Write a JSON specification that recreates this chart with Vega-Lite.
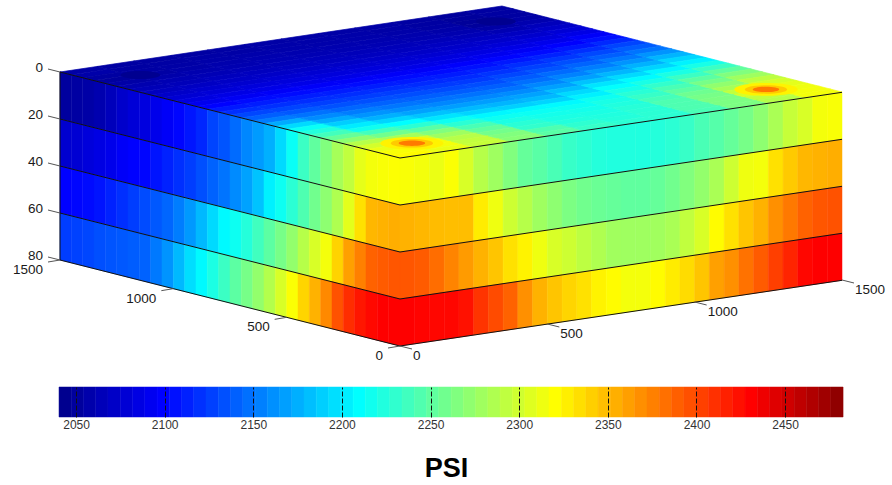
{"$schema":"https://vega.github.io/schema/vega-lite/v6.json","width":892,"height":485,"padding":0,"autosize":{"type":"fit","contains":"padding"},"background":"white","config":{"view":{"stroke":null}},"datasets":{"top":[
{"i":0,"j":0,"p":2052},{"i":0,"j":1,"p":2050},{"i":0,"j":2,"p":2050},{"i":0,"j":3,"p":2050},{"i":0,"j":4,"p":2051},{"i":0,"j":5,"p":2052},{"i":0,"j":6,"p":2052},{"i":0,"j":7,"p":2052},{"i":0,"j":8,"p":2052},{"i":0,"j":9,"p":2050},{"i":0,"j":10,"p":2047},{"i":0,"j":11,"p":2050},
{"i":1,"j":0,"p":2053},{"i":1,"j":1,"p":2050},{"i":1,"j":2,"p":2051},{"i":1,"j":3,"p":2052},{"i":1,"j":4,"p":2052},{"i":1,"j":5,"p":2053},{"i":1,"j":6,"p":2053},{"i":1,"j":7,"p":2053},{"i":1,"j":8,"p":2052},{"i":1,"j":9,"p":2050},{"i":1,"j":10,"p":2047},{"i":1,"j":11,"p":2050},
{"i":2,"j":0,"p":2050},{"i":2,"j":1,"p":2051},{"i":2,"j":2,"p":2052},{"i":2,"j":3,"p":2053},{"i":2,"j":4,"p":2054},{"i":2,"j":5,"p":2054},{"i":2,"j":6,"p":2054},{"i":2,"j":7,"p":2054},{"i":2,"j":8,"p":2053},{"i":2,"j":9,"p":2051},{"i":2,"j":10,"p":2046},{"i":2,"j":11,"p":2050},
{"i":3,"j":0,"p":2048},{"i":3,"j":1,"p":2051},{"i":3,"j":2,"p":2053},{"i":3,"j":3,"p":2055},{"i":3,"j":4,"p":2056},{"i":3,"j":5,"p":2056},{"i":3,"j":6,"p":2056},{"i":3,"j":7,"p":2056},{"i":3,"j":8,"p":2055},{"i":3,"j":9,"p":2053},{"i":3,"j":10,"p":2047},{"i":3,"j":11,"p":2052},
{"i":4,"j":0,"p":2052},{"i":4,"j":1,"p":2054},{"i":4,"j":2,"p":2056},{"i":4,"j":3,"p":2057},{"i":4,"j":4,"p":2058},{"i":4,"j":5,"p":2058},{"i":4,"j":6,"p":2058},{"i":4,"j":7,"p":2058},{"i":4,"j":8,"p":2057},{"i":4,"j":9,"p":2056},{"i":4,"j":10,"p":2052},{"i":4,"j":11,"p":2056},
{"i":5,"j":0,"p":2056},{"i":5,"j":1,"p":2058},{"i":5,"j":2,"p":2059},{"i":5,"j":3,"p":2060},{"i":5,"j":4,"p":2061},{"i":5,"j":5,"p":2061},{"i":5,"j":6,"p":2061},{"i":5,"j":7,"p":2061},{"i":5,"j":8,"p":2061},{"i":5,"j":9,"p":2060},{"i":5,"j":10,"p":2058},{"i":5,"j":11,"p":2062},
{"i":6,"j":0,"p":2060},{"i":6,"j":1,"p":2061},{"i":6,"j":2,"p":2063},{"i":6,"j":3,"p":2064},{"i":6,"j":4,"p":2064},{"i":6,"j":5,"p":2064},{"i":6,"j":6,"p":2064},{"i":6,"j":7,"p":2064},{"i":6,"j":8,"p":2065},{"i":6,"j":9,"p":2065},{"i":6,"j":10,"p":2065},{"i":6,"j":11,"p":2068},
{"i":7,"j":0,"p":2064},{"i":7,"j":1,"p":2066},{"i":7,"j":2,"p":2067},{"i":7,"j":3,"p":2068},{"i":7,"j":4,"p":2068},{"i":7,"j":5,"p":2068},{"i":7,"j":6,"p":2068},{"i":7,"j":7,"p":2068},{"i":7,"j":8,"p":2069},{"i":7,"j":9,"p":2070},{"i":7,"j":10,"p":2071},{"i":7,"j":11,"p":2075},
{"i":8,"j":0,"p":2069},{"i":8,"j":1,"p":2071},{"i":8,"j":2,"p":2072},{"i":8,"j":3,"p":2073},{"i":8,"j":4,"p":2073},{"i":8,"j":5,"p":2073},{"i":8,"j":6,"p":2073},{"i":8,"j":7,"p":2073},{"i":8,"j":8,"p":2074},{"i":8,"j":9,"p":2076},{"i":8,"j":10,"p":2078},{"i":8,"j":11,"p":2083},
{"i":9,"j":0,"p":2074},{"i":9,"j":1,"p":2076},{"i":9,"j":2,"p":2078},{"i":9,"j":3,"p":2078},{"i":9,"j":4,"p":2078},{"i":9,"j":5,"p":2078},{"i":9,"j":6,"p":2078},{"i":9,"j":7,"p":2079},{"i":9,"j":8,"p":2081},{"i":9,"j":9,"p":2083},{"i":9,"j":10,"p":2086},{"i":9,"j":11,"p":2092},
{"i":10,"j":0,"p":2080},{"i":10,"j":1,"p":2083},{"i":10,"j":2,"p":2084},{"i":10,"j":3,"p":2084},{"i":10,"j":4,"p":2084},{"i":10,"j":5,"p":2084},{"i":10,"j":6,"p":2084},{"i":10,"j":7,"p":2085},{"i":10,"j":8,"p":2088},{"i":10,"j":9,"p":2091},{"i":10,"j":10,"p":2095},{"i":10,"j":11,"p":2102},
{"i":11,"j":0,"p":2087},{"i":11,"j":1,"p":2090},{"i":11,"j":2,"p":2092},{"i":11,"j":3,"p":2092},{"i":11,"j":4,"p":2092},{"i":11,"j":5,"p":2092},{"i":11,"j":6,"p":2092},{"i":11,"j":7,"p":2094},{"i":11,"j":8,"p":2097},{"i":11,"j":9,"p":2100},{"i":11,"j":10,"p":2105},{"i":11,"j":11,"p":2113},
{"i":12,"j":0,"p":2096},{"i":12,"j":1,"p":2100},{"i":12,"j":2,"p":2100},{"i":12,"j":3,"p":2100},{"i":12,"j":4,"p":2100},{"i":12,"j":5,"p":2100},{"i":12,"j":6,"p":2100},{"i":12,"j":7,"p":2102},{"i":12,"j":8,"p":2106},{"i":12,"j":9,"p":2110},{"i":12,"j":10,"p":2116},{"i":12,"j":11,"p":2125},
{"i":13,"j":0,"p":2106},{"i":13,"j":1,"p":2108},{"i":13,"j":2,"p":2108},{"i":13,"j":3,"p":2108},{"i":13,"j":4,"p":2108},{"i":13,"j":5,"p":2107},{"i":13,"j":6,"p":2107},{"i":13,"j":7,"p":2110},{"i":13,"j":8,"p":2115},{"i":13,"j":9,"p":2120},{"i":13,"j":10,"p":2127},{"i":13,"j":11,"p":2135},
{"i":14,"j":0,"p":2116},{"i":14,"j":1,"p":2116},{"i":14,"j":2,"p":2115},{"i":14,"j":3,"p":2115},{"i":14,"j":4,"p":2115},{"i":14,"j":5,"p":2114},{"i":14,"j":6,"p":2114},{"i":14,"j":7,"p":2118},{"i":14,"j":8,"p":2124},{"i":14,"j":9,"p":2130},{"i":14,"j":10,"p":2137},{"i":14,"j":11,"p":2146},
{"i":15,"j":0,"p":2126},{"i":15,"j":1,"p":2125},{"i":15,"j":2,"p":2123},{"i":15,"j":3,"p":2122},{"i":15,"j":4,"p":2122},{"i":15,"j":5,"p":2121},{"i":15,"j":6,"p":2121},{"i":15,"j":7,"p":2126},{"i":15,"j":8,"p":2132},{"i":15,"j":9,"p":2139},{"i":15,"j":10,"p":2148},{"i":15,"j":11,"p":2160},
{"i":16,"j":0,"p":2137},{"i":16,"j":1,"p":2134},{"i":16,"j":2,"p":2131},{"i":16,"j":3,"p":2130},{"i":16,"j":4,"p":2129},{"i":16,"j":5,"p":2128},{"i":16,"j":6,"p":2129},{"i":16,"j":7,"p":2135},{"i":16,"j":8,"p":2142},{"i":16,"j":9,"p":2150},{"i":16,"j":10,"p":2160},{"i":16,"j":11,"p":2174},
{"i":17,"j":0,"p":2150},{"i":17,"j":1,"p":2145},{"i":17,"j":2,"p":2140},{"i":17,"j":3,"p":2138},{"i":17,"j":4,"p":2137},{"i":17,"j":5,"p":2136},{"i":17,"j":6,"p":2137},{"i":17,"j":7,"p":2144},{"i":17,"j":8,"p":2152},{"i":17,"j":9,"p":2162},{"i":17,"j":10,"p":2173},{"i":17,"j":11,"p":2189},
{"i":18,"j":0,"p":2170},{"i":18,"j":1,"p":2156},{"i":18,"j":2,"p":2150},{"i":18,"j":3,"p":2147},{"i":18,"j":4,"p":2145},{"i":18,"j":5,"p":2145},{"i":18,"j":6,"p":2146},{"i":18,"j":7,"p":2154},{"i":18,"j":8,"p":2165},{"i":18,"j":9,"p":2175},{"i":18,"j":10,"p":2187},{"i":18,"j":11,"p":2201},
{"i":19,"j":0,"p":2190},{"i":19,"j":1,"p":2170},{"i":19,"j":2,"p":2160},{"i":19,"j":3,"p":2156},{"i":19,"j":4,"p":2154},{"i":19,"j":5,"p":2154},{"i":19,"j":6,"p":2156},{"i":19,"j":7,"p":2165},{"i":19,"j":8,"p":2180},{"i":19,"j":9,"p":2190},{"i":19,"j":10,"p":2203},{"i":19,"j":11,"p":2216},
{"i":20,"j":0,"p":2210},{"i":20,"j":1,"p":2185},{"i":20,"j":2,"p":2172},{"i":20,"j":3,"p":2166},{"i":20,"j":4,"p":2164},{"i":20,"j":5,"p":2164},{"i":20,"j":6,"p":2166},{"i":20,"j":7,"p":2178},{"i":20,"j":8,"p":2195},{"i":20,"j":9,"p":2205},{"i":20,"j":10,"p":2218},{"i":20,"j":11,"p":2232},
{"i":21,"j":0,"p":2222},{"i":21,"j":1,"p":2198},{"i":21,"j":2,"p":2188},{"i":21,"j":3,"p":2180},{"i":21,"j":4,"p":2176},{"i":21,"j":5,"p":2174},{"i":21,"j":6,"p":2176},{"i":21,"j":7,"p":2190},{"i":21,"j":8,"p":2207},{"i":21,"j":9,"p":2217},{"i":21,"j":10,"p":2232},{"i":21,"j":11,"p":2248},
{"i":22,"j":0,"p":2235},{"i":22,"j":1,"p":2213},{"i":22,"j":2,"p":2206},{"i":22,"j":3,"p":2195},{"i":22,"j":4,"p":2188},{"i":22,"j":5,"p":2186},{"i":22,"j":6,"p":2188},{"i":22,"j":7,"p":2200},{"i":22,"j":8,"p":2216},{"i":22,"j":9,"p":2228},{"i":22,"j":10,"p":2246},{"i":22,"j":11,"p":2262},
{"i":23,"j":0,"p":2250},{"i":23,"j":1,"p":2235},{"i":23,"j":2,"p":2225},{"i":23,"j":3,"p":2212},{"i":23,"j":4,"p":2203},{"i":23,"j":5,"p":2204},{"i":23,"j":6,"p":2204},{"i":23,"j":7,"p":2212},{"i":23,"j":8,"p":2224},{"i":23,"j":9,"p":2238},{"i":23,"j":10,"p":2258},{"i":23,"j":11,"p":2275},
{"i":24,"j":0,"p":2268},{"i":24,"j":1,"p":2255},{"i":24,"j":2,"p":2245},{"i":24,"j":3,"p":2225},{"i":24,"j":4,"p":2212},{"i":24,"j":5,"p":2211},{"i":24,"j":6,"p":2211},{"i":24,"j":7,"p":2217},{"i":24,"j":8,"p":2230},{"i":24,"j":9,"p":2246},{"i":24,"j":10,"p":2269},{"i":24,"j":11,"p":2288},
{"i":25,"j":0,"p":2285},{"i":25,"j":1,"p":2278},{"i":25,"j":2,"p":2262},{"i":25,"j":3,"p":2238},{"i":25,"j":4,"p":2218},{"i":25,"j":5,"p":2215},{"i":25,"j":6,"p":2215},{"i":25,"j":7,"p":2220},{"i":25,"j":8,"p":2236},{"i":25,"j":9,"p":2254},{"i":25,"j":10,"p":2278},{"i":25,"j":11,"p":2298},
{"i":26,"j":0,"p":2298},{"i":26,"j":1,"p":2300},{"i":26,"j":2,"p":2275},{"i":26,"j":3,"p":2248},{"i":26,"j":4,"p":2224},{"i":26,"j":5,"p":2218},{"i":26,"j":6,"p":2218},{"i":26,"j":7,"p":2223},{"i":26,"j":8,"p":2240},{"i":26,"j":9,"p":2258},{"i":26,"j":10,"p":2290},{"i":26,"j":11,"p":2305},
{"i":27,"j":0,"p":2308},{"i":27,"j":1,"p":2312},{"i":27,"j":2,"p":2285},{"i":27,"j":3,"p":2256},{"i":27,"j":4,"p":2228},{"i":27,"j":5,"p":2221},{"i":27,"j":6,"p":2220},{"i":27,"j":7,"p":2224},{"i":27,"j":8,"p":2240},{"i":27,"j":9,"p":2260},{"i":27,"j":10,"p":2300},{"i":27,"j":11,"p":2310},
{"i":28,"j":0,"p":2314},{"i":28,"j":1,"p":2312},{"i":28,"j":2,"p":2290},{"i":28,"j":3,"p":2262},{"i":28,"j":4,"p":2240},{"i":28,"j":5,"p":2226},{"i":28,"j":6,"p":2222},{"i":28,"j":7,"p":2225},{"i":28,"j":8,"p":2240},{"i":28,"j":9,"p":2260},{"i":28,"j":10,"p":2290},{"i":28,"j":11,"p":2312},
{"i":29,"j":0,"p":2318},{"i":29,"j":1,"p":2308},{"i":29,"j":2,"p":2292},{"i":29,"j":3,"p":2265},{"i":29,"j":4,"p":2245},{"i":29,"j":5,"p":2230},{"i":29,"j":6,"p":2225},{"i":29,"j":7,"p":2225},{"i":29,"j":8,"p":2238},{"i":29,"j":9,"p":2260},{"i":29,"j":10,"p":2285},{"i":29,"j":11,"p":2312}
],"side":[
{"face":"L","k":0,"c":0,"p":2048},{"face":"L","k":0,"c":1,"p":2050},{"face":"L","k":0,"c":2,"p":2052},{"face":"L","k":0,"c":3,"p":2056},{"face":"L","k":0,"c":4,"p":2062},{"face":"L","k":0,"c":5,"p":2070},{"face":"L","k":0,"c":6,"p":2076},{"face":"L","k":0,"c":7,"p":2080},{"face":"L","k":0,"c":8,"p":2086},{"face":"L","k":0,"c":9,"p":2092},{"face":"L","k":0,"c":10,"p":2098},{"face":"L","k":0,"c":11,"p":2105},{"face":"L","k":0,"c":12,"p":2112},{"face":"L","k":0,"c":13,"p":2125},{"face":"L","k":0,"c":14,"p":2132},{"face":"L","k":0,"c":15,"p":2142},{"face":"L","k":0,"c":16,"p":2154},{"face":"L","k":0,"c":17,"p":2163},{"face":"L","k":0,"c":18,"p":2172},{"face":"L","k":0,"c":19,"p":2190},{"face":"L","k":0,"c":20,"p":2210},{"face":"L","k":0,"c":21,"p":2232},{"face":"L","k":0,"c":22,"p":2248},{"face":"L","k":0,"c":23,"p":2262},{"face":"L","k":0,"c":24,"p":2278},{"face":"L","k":0,"c":25,"p":2290},{"face":"L","k":0,"c":26,"p":2306},{"face":"L","k":0,"c":27,"p":2312},{"face":"L","k":0,"c":28,"p":2314},{"face":"L","k":0,"c":29,"p":2316},
{"face":"L","k":1,"c":0,"p":2072},{"face":"L","k":1,"c":1,"p":2074},{"face":"L","k":1,"c":2,"p":2078},{"face":"L","k":1,"c":3,"p":2082},{"face":"L","k":1,"c":4,"p":2086},{"face":"L","k":1,"c":5,"p":2092},{"face":"L","k":1,"c":6,"p":2096},{"face":"L","k":1,"c":7,"p":2098},{"face":"L","k":1,"c":8,"p":2104},{"face":"L","k":1,"c":9,"p":2110},{"face":"L","k":1,"c":10,"p":2116},{"face":"L","k":1,"c":11,"p":2122},{"face":"L","k":1,"c":12,"p":2130},{"face":"L","k":1,"c":13,"p":2138},{"face":"L","k":1,"c":14,"p":2146},{"face":"L","k":1,"c":15,"p":2156},{"face":"L","k":1,"c":16,"p":2166},{"face":"L","k":1,"c":17,"p":2180},{"face":"L","k":1,"c":18,"p":2200},{"face":"L","k":1,"c":19,"p":2212},{"face":"L","k":1,"c":20,"p":2225},{"face":"L","k":1,"c":21,"p":2240},{"face":"L","k":1,"c":22,"p":2255},{"face":"L","k":1,"c":23,"p":2268},{"face":"L","k":1,"c":24,"p":2282},{"face":"L","k":1,"c":25,"p":2305},{"face":"L","k":1,"c":26,"p":2330},{"face":"L","k":1,"c":27,"p":2348},{"face":"L","k":1,"c":28,"p":2350},{"face":"L","k":1,"c":29,"p":2352},
{"face":"L","k":2,"c":0,"p":2096},{"face":"L","k":2,"c":1,"p":2098},{"face":"L","k":2,"c":2,"p":2100},{"face":"L","k":2,"c":3,"p":2104},{"face":"L","k":2,"c":4,"p":2110},{"face":"L","k":2,"c":5,"p":2116},{"face":"L","k":2,"c":6,"p":2122},{"face":"L","k":2,"c":7,"p":2128},{"face":"L","k":2,"c":8,"p":2134},{"face":"L","k":2,"c":9,"p":2140},{"face":"L","k":2,"c":10,"p":2150},{"face":"L","k":2,"c":11,"p":2162},{"face":"L","k":2,"c":12,"p":2176},{"face":"L","k":2,"c":13,"p":2190},{"face":"L","k":2,"c":14,"p":2204},{"face":"L","k":2,"c":15,"p":2212},{"face":"L","k":2,"c":16,"p":2222},{"face":"L","k":2,"c":17,"p":2234},{"face":"L","k":2,"c":18,"p":2246},{"face":"L","k":2,"c":19,"p":2258},{"face":"L","k":2,"c":20,"p":2270},{"face":"L","k":2,"c":21,"p":2285},{"face":"L","k":2,"c":22,"p":2300},{"face":"L","k":2,"c":23,"p":2312},{"face":"L","k":2,"c":24,"p":2336},{"face":"L","k":2,"c":25,"p":2358},{"face":"L","k":2,"c":26,"p":2372},{"face":"L","k":2,"c":27,"p":2385},{"face":"L","k":2,"c":28,"p":2388},{"face":"L","k":2,"c":29,"p":2390},
{"face":"L","k":3,"c":0,"p":2122},{"face":"L","k":3,"c":1,"p":2124},{"face":"L","k":3,"c":2,"p":2126},{"face":"L","k":3,"c":3,"p":2130},{"face":"L","k":3,"c":4,"p":2132},{"face":"L","k":3,"c":5,"p":2134},{"face":"L","k":3,"c":6,"p":2136},{"face":"L","k":3,"c":7,"p":2138},{"face":"L","k":3,"c":8,"p":2148},{"face":"L","k":3,"c":9,"p":2160},{"face":"L","k":3,"c":10,"p":2176},{"face":"L","k":3,"c":11,"p":2192},{"face":"L","k":3,"c":12,"p":2204},{"face":"L","k":3,"c":13,"p":2218},{"face":"L","k":3,"c":14,"p":2232},{"face":"L","k":3,"c":15,"p":2246},{"face":"L","k":3,"c":16,"p":2258},{"face":"L","k":3,"c":17,"p":2270},{"face":"L","k":3,"c":18,"p":2284},{"face":"L","k":3,"c":19,"p":2300},{"face":"L","k":3,"c":20,"p":2315},{"face":"L","k":3,"c":21,"p":2335},{"face":"L","k":3,"c":22,"p":2350},{"face":"L","k":3,"c":23,"p":2368},{"face":"L","k":3,"c":24,"p":2392},{"face":"L","k":3,"c":25,"p":2408},{"face":"L","k":3,"c":26,"p":2418},{"face":"L","k":3,"c":27,"p":2424},{"face":"L","k":3,"c":28,"p":2428},{"face":"L","k":3,"c":29,"p":2428},
{"face":"R","k":0,"c":0,"p":2314},{"face":"R","k":0,"c":1,"p":2312},{"face":"R","k":0,"c":2,"p":2308},{"face":"R","k":0,"c":3,"p":2315},{"face":"R","k":0,"c":4,"p":2300},{"face":"R","k":0,"c":5,"p":2285},{"face":"R","k":0,"c":6,"p":2275},{"face":"R","k":0,"c":7,"p":2262},{"face":"R","k":0,"c":8,"p":2250},{"face":"R","k":0,"c":9,"p":2245},{"face":"R","k":0,"c":10,"p":2238},{"face":"R","k":0,"c":11,"p":2230},{"face":"R","k":0,"c":12,"p":2226},{"face":"R","k":0,"c":13,"p":2222},{"face":"R","k":0,"c":14,"p":2220},{"face":"R","k":0,"c":15,"p":2220},{"face":"R","k":0,"c":16,"p":2220},{"face":"R","k":0,"c":17,"p":2222},{"face":"R","k":0,"c":18,"p":2225},{"face":"R","k":0,"c":19,"p":2230},{"face":"R","k":0,"c":20,"p":2238},{"face":"R","k":0,"c":21,"p":2243},{"face":"R","k":0,"c":22,"p":2250},{"face":"R","k":0,"c":23,"p":2258},{"face":"R","k":0,"c":24,"p":2268},{"face":"R","k":0,"c":25,"p":2280},{"face":"R","k":0,"c":26,"p":2292},{"face":"R","k":0,"c":27,"p":2300},{"face":"R","k":0,"c":28,"p":2312},{"face":"R","k":0,"c":29,"p":2314},
{"face":"R","k":1,"c":0,"p":2350},{"face":"R","k":1,"c":1,"p":2348},{"face":"R","k":1,"c":2,"p":2346},{"face":"R","k":1,"c":3,"p":2345},{"face":"R","k":1,"c":4,"p":2345},{"face":"R","k":1,"c":5,"p":2325},{"face":"R","k":1,"c":6,"p":2310},{"face":"R","k":1,"c":7,"p":2295},{"face":"R","k":1,"c":8,"p":2285},{"face":"R","k":1,"c":9,"p":2275},{"face":"R","k":1,"c":10,"p":2268},{"face":"R","k":1,"c":11,"p":2260},{"face":"R","k":1,"c":12,"p":2255},{"face":"R","k":1,"c":13,"p":2252},{"face":"R","k":1,"c":14,"p":2250},{"face":"R","k":1,"c":15,"p":2248},{"face":"R","k":1,"c":16,"p":2248},{"face":"R","k":1,"c":17,"p":2250},{"face":"R","k":1,"c":18,"p":2255},{"face":"R","k":1,"c":19,"p":2262},{"face":"R","k":1,"c":20,"p":2270},{"face":"R","k":1,"c":21,"p":2280},{"face":"R","k":1,"c":22,"p":2295},{"face":"R","k":1,"c":23,"p":2310},{"face":"R","k":1,"c":24,"p":2312},{"face":"R","k":1,"c":25,"p":2330},{"face":"R","k":1,"c":26,"p":2340},{"face":"R","k":1,"c":27,"p":2348},{"face":"R","k":1,"c":28,"p":2350},{"face":"R","k":1,"c":29,"p":2352},
{"face":"R","k":2,"c":0,"p":2390},{"face":"R","k":2,"c":1,"p":2388},{"face":"R","k":2,"c":2,"p":2380},{"face":"R","k":2,"c":3,"p":2370},{"face":"R","k":2,"c":4,"p":2360},{"face":"R","k":2,"c":5,"p":2350},{"face":"R","k":2,"c":6,"p":2342},{"face":"R","k":2,"c":7,"p":2330},{"face":"R","k":2,"c":8,"p":2322},{"face":"R","k":2,"c":9,"p":2310},{"face":"R","k":2,"c":10,"p":2300},{"face":"R","k":2,"c":11,"p":2295},{"face":"R","k":2,"c":12,"p":2288},{"face":"R","k":2,"c":13,"p":2282},{"face":"R","k":2,"c":14,"p":2276},{"face":"R","k":2,"c":15,"p":2275},{"face":"R","k":2,"c":16,"p":2275},{"face":"R","k":2,"c":17,"p":2276},{"face":"R","k":2,"c":18,"p":2280},{"face":"R","k":2,"c":19,"p":2290},{"face":"R","k":2,"c":20,"p":2300},{"face":"R","k":2,"c":21,"p":2318},{"face":"R","k":2,"c":22,"p":2330},{"face":"R","k":2,"c":23,"p":2342},{"face":"R","k":2,"c":24,"p":2350},{"face":"R","k":2,"c":25,"p":2365},{"face":"R","k":2,"c":26,"p":2375},{"face":"R","k":2,"c":27,"p":2385},{"face":"R","k":2,"c":28,"p":2390},{"face":"R","k":2,"c":29,"p":2392},
{"face":"R","k":3,"c":0,"p":2428},{"face":"R","k":3,"c":1,"p":2426},{"face":"R","k":3,"c":2,"p":2425},{"face":"R","k":3,"c":3,"p":2425},{"face":"R","k":3,"c":4,"p":2420},{"face":"R","k":3,"c":5,"p":2405},{"face":"R","k":3,"c":6,"p":2395},{"face":"R","k":3,"c":7,"p":2385},{"face":"R","k":3,"c":8,"p":2365},{"face":"R","k":3,"c":9,"p":2350},{"face":"R","k":3,"c":10,"p":2342},{"face":"R","k":3,"c":11,"p":2335},{"face":"R","k":3,"c":12,"p":2330},{"face":"R","k":3,"c":13,"p":2322},{"face":"R","k":3,"c":14,"p":2318},{"face":"R","k":3,"c":15,"p":2312},{"face":"R","k":3,"c":16,"p":2312},{"face":"R","k":3,"c":17,"p":2318},{"face":"R","k":3,"c":18,"p":2325},{"face":"R","k":3,"c":19,"p":2332},{"face":"R","k":3,"c":20,"p":2342},{"face":"R","k":3,"c":21,"p":2358},{"face":"R","k":3,"c":22,"p":2365},{"face":"R","k":3,"c":23,"p":2378},{"face":"R","k":3,"c":24,"p":2388},{"face":"R","k":3,"c":25,"p":2400},{"face":"R","k":3,"c":26,"p":2412},{"face":"R","k":3,"c":27,"p":2425},{"face":"R","k":3,"c":28,"p":2428},{"face":"R","k":3,"c":29,"p":2428}
],"wells":[
{"s":0.905,"t":0.1,"p":2322},{"s":0.905,"t":0.1,"p":2340},{"s":0.905,"t":0.1,"p":2375},
{"s":0.896,"t":0.908,"p":2322},{"s":0.896,"t":0.908,"p":2340},{"s":0.896,"t":0.908,"p":2375},
{"s":0.109,"t":0.098,"p":2041},{"s":0.104,"t":0.906,"p":2041}
],"grid":[
{"g":"k0","k":0,"n":0},{"g":"k0","k":0,"n":1},{"g":"k0","k":0,"n":2},
{"g":"k1","k":1,"n":0},{"g":"k1","k":1,"n":1},{"g":"k1","k":1,"n":2},
{"g":"k2","k":2,"n":0},{"g":"k2","k":2,"n":1},{"g":"k2","k":2,"n":2},
{"g":"k3","k":3,"n":0},{"g":"k3","k":3,"n":1},{"g":"k3","k":3,"n":2},
{"g":"k4","k":4,"n":0},{"g":"k4","k":4,"n":1},{"g":"k4","k":4,"n":2},
{"g":"edge","k":0,"n":0},{"g":"edge","k":4,"n":0}
],"ticks":[
{"axis":"d","v":0},{"axis":"d","v":20},{"axis":"d","v":40},{"axis":"d","v":60},{"axis":"d","v":80},
{"axis":"l","v":0},{"axis":"l","v":500},{"axis":"l","v":1000},{"axis":"l","v":1500},
{"axis":"r","v":0},{"axis":"r","v":500},{"axis":"r","v":1000},{"axis":"r","v":1500}
],"bands":[
{"lo":2040.4,"hi":2047.3},{"lo":2047.3,"hi":2054.2},{"lo":2054.2,"hi":2061.1},{"lo":2061.1,"hi":2068.0},{"lo":2068.0,"hi":2075.0},{"lo":2075.0,"hi":2081.9},{"lo":2081.9,"hi":2088.8},{"lo":2088.8,"hi":2095.7},{"lo":2095.7,"hi":2102.6},{"lo":2102.6,"hi":2109.5},{"lo":2109.5,"hi":2116.4},{"lo":2116.4,"hi":2123.3},{"lo":2123.3,"hi":2130.2},{"lo":2130.2,"hi":2137.2},{"lo":2137.2,"hi":2144.1},{"lo":2144.1,"hi":2151.0},{"lo":2151.0,"hi":2157.9},{"lo":2157.9,"hi":2164.8},{"lo":2164.8,"hi":2171.7},{"lo":2171.7,"hi":2178.6},{"lo":2178.6,"hi":2185.5},{"lo":2185.5,"hi":2192.4},{"lo":2192.4,"hi":2199.4},{"lo":2199.4,"hi":2206.3},{"lo":2206.3,"hi":2213.2},{"lo":2213.2,"hi":2220.1},{"lo":2220.1,"hi":2227.0},{"lo":2227.0,"hi":2233.9},{"lo":2233.9,"hi":2240.8},{"lo":2240.8,"hi":2247.7},{"lo":2247.7,"hi":2254.6},{"lo":2254.6,"hi":2261.6},{"lo":2261.6,"hi":2268.5},{"lo":2268.5,"hi":2275.4},{"lo":2275.4,"hi":2282.3},{"lo":2282.3,"hi":2289.2},{"lo":2289.2,"hi":2296.1},{"lo":2296.1,"hi":2303.0},{"lo":2303.0,"hi":2309.9},{"lo":2309.9,"hi":2316.8},{"lo":2316.8,"hi":2323.8},{"lo":2323.8,"hi":2330.7},{"lo":2330.7,"hi":2337.6},{"lo":2337.6,"hi":2344.5},{"lo":2344.5,"hi":2351.4},{"lo":2351.4,"hi":2358.3},{"lo":2358.3,"hi":2365.2},{"lo":2365.2,"hi":2372.1},{"lo":2372.1,"hi":2379.0},{"lo":2379.0,"hi":2386.0},{"lo":2386.0,"hi":2392.9},{"lo":2392.9,"hi":2399.8},{"lo":2399.8,"hi":2406.7},{"lo":2406.7,"hi":2413.6},{"lo":2413.6,"hi":2420.5},{"lo":2420.5,"hi":2427.4},{"lo":2427.4,"hi":2434.3},{"lo":2434.3,"hi":2441.2},{"lo":2441.2,"hi":2448.2},{"lo":2448.2,"hi":2455.1},{"lo":2455.1,"hi":2462.0},{"lo":2462.0,"hi":2468.9},{"lo":2468.9,"hi":2475.8},{"lo":2475.8,"hi":2482.7}
]},
"resolve":{"scale":{"x":"independent"}},
"layer":[
{"layer":[
{"data":{"name":"top"},"transform":[{"calculate":"[0,1,2,3]","as":"e"},{"flatten":["e"]},{"calculate":"[0,11.333,36.833,48.167][datum.e]","as":"dx"},{"calculate":"60+11.333*datum.i+36.833*datum.j","as":"lx"},{"calculate":"72+2.867*datum.i-5.5*datum.j","as":"ly"},{"calculate":"datum.lx+datum.dx","as":"sx"},{"calculate":"datum.dx<=36.833?datum.ly-0.1493*datum.dx:datum.ly-5.5+0.2529*(datum.dx-36.833)","as":"sy"},{"calculate":"datum.dx<=11.333?datum.ly+0.2529*datum.dx:datum.ly+2.867-0.1493*(datum.dx-11.333)","as":"sy2"},{"calculate":"datum.i*100+datum.j","as":"id"}],
"mark":{"type":"area","orient":"vertical","strokeWidth":0.7},
"encoding":{"x":{"field":"sx","type":"quantitative","scale":{"domain":[0,892],"nice":false,"zero":false},"axis":null},"y":{"field":"sy","type":"quantitative","scale":{"domain":[485,0],"nice":false,"zero":false},"axis":null},"y2":{"field":"sy2"},"detail":{"field":"id","type":"nominal"},
"fill":{"field":"p","type":"quantitative","legend":null,"scale":{"interpolate":"rgb","domain":[2040.4,2095.7,2206.2,2316.8,2427.4,2482.7],"range":["#00008f","#0000ff","#00ffff","#ffff00","#ff0000","#800000"]}},
"stroke":{"field":"p","type":"quantitative","legend":null,"scale":{"interpolate":"rgb","domain":[2040.4,2095.7,2206.2,2316.8,2427.4,2482.7],"range":["#00008f","#0000ff","#00ffff","#ffff00","#ff0000","#800000"]}}}},
{"data":{"name":"wells"},"transform":[{"calculate":"60+340*datum.s+442*datum.t","as":"sx"},{"calculate":"72+86*datum.s-65.7*datum.t","as":"sy"}],
"mark":{"type":"point","filled":true,"shape":"M-1,0A1,0.2 0 1,1 1,0A1,0.2 0 1,1 -1,0Z","opacity":1,"strokeWidth":0},
"encoding":{"x":{"field":"sx","type":"quantitative","scale":{"domain":[0,892],"nice":false,"zero":false},"axis":null},"y":{"field":"sy","type":"quantitative","scale":{"domain":[485,0],"nice":false,"zero":false},"axis":null},
"size":{"field":"p","type":"quantitative","legend":null,"scale":{"domain":[2041,2322,2340,2375],"range":[1600,4000,1800,700],"zero":false}},
"color":{"field":"p","type":"quantitative","legend":null,"scale":{"interpolate":"rgb","domain":[2040.4,2095.7,2206.2,2316.8,2427.4,2482.7],"range":["#00008f","#0000ff","#00ffff","#ffff00","#ff0000","#800000"]}}}},
{"data":{"name":"side"},"transform":[{"calculate":"[0,1]","as":"e"},{"flatten":["e"]},{"calculate":"(datum.c+datum.e)/30","as":"u"},{"calculate":"datum.face=='L'?60+340*datum.u:400+442*datum.u","as":"sx"},{"calculate":"(datum.face=='L'?72+86*datum.u:158-65.7*datum.u)+47*datum.k","as":"sy"},{"calculate":"datum.sy+47","as":"sy2"},{"calculate":"datum.face+datum.k+'-'+datum.c","as":"id"}],
"mark":{"type":"area","orient":"vertical","strokeWidth":0.5},
"encoding":{"x":{"field":"sx","type":"quantitative","scale":{"domain":[0,892],"nice":false,"zero":false},"axis":null},"y":{"field":"sy","type":"quantitative","scale":{"domain":[485,0],"nice":false,"zero":false},"axis":null},"y2":{"field":"sy2"},"detail":{"field":"id","type":"nominal"},
"fill":{"field":"p","type":"quantitative","legend":null,"scale":{"interpolate":"rgb","domain":[2040.4,2095.7,2206.2,2316.8,2427.4,2482.7],"range":["#00008f","#0000ff","#00ffff","#ffff00","#ff0000","#800000"]}},
"stroke":{"field":"p","type":"quantitative","legend":null,"scale":{"interpolate":"rgb","domain":[2040.4,2095.7,2206.2,2316.8,2427.4,2482.7],"range":["#00008f","#0000ff","#00ffff","#ffff00","#ff0000","#800000"]}}}},
{"data":{"name":"grid"},"transform":[{"calculate":"[60,400,842][datum.n]","as":"sx"},{"calculate":"[72,158,92.3][datum.n]+47*datum.k","as":"sy"}],
"mark":{"type":"line","color":"#111111","strokeWidth":1},
"encoding":{"x":{"field":"sx","type":"quantitative","scale":{"domain":[0,892],"nice":false,"zero":false},"axis":null},"y":{"field":"sy","type":"quantitative","scale":{"domain":[485,0],"nice":false,"zero":false},"axis":null},"detail":{"field":"g","type":"nominal"},"order":{"field":"k","type":"quantitative"}}},
{"data":{"name":"ticks"},"transform":[{"calculate":"datum.v/1500","as":"u"},{"calculate":"datum.axis=='d'?60:datum.axis=='l'?400-340*datum.u:400+442*datum.u","as":"sx"},{"calculate":"datum.axis=='d'?72+2.35*datum.v:datum.axis=='l'?346-86*datum.u:346-66*datum.u","as":"sy"},{"calculate":"datum.sx+(datum.axis=='r'?12:-12)","as":"tx"},{"calculate":"datum.sy+(datum.axis=='d'?-3:datum.axis=='l'?2:3)","as":"ty"}],
"mark":{"type":"rule","color":"#555555","strokeWidth":1},
"encoding":{"x":{"field":"sx","type":"quantitative","scale":{"domain":[0,892],"nice":false,"zero":false},"axis":null},"y":{"field":"sy","type":"quantitative","scale":{"domain":[485,0],"nice":false,"zero":false},"axis":null},"x2":{"field":"tx"},"y2":{"field":"ty"}}},
{"data":{"name":"ticks"},"transform":[{"filter":"datum.axis=='d'"},{"calculate":"72+2.35*datum.v","as":"sy"},{"calculate":"60","as":"sx"}],
"mark":{"type":"text","align":"right","baseline":"middle","dx":-17,"dy":-4,"font":"Liberation Sans","fontSize":13.5,"color":"#1a1a1a"},
"encoding":{"x":{"field":"sx","type":"quantitative","scale":{"domain":[0,892],"nice":false,"zero":false},"axis":null},"y":{"field":"sy","type":"quantitative","scale":{"domain":[485,0],"nice":false,"zero":false},"axis":null},"text":{"field":"v","type":"quantitative","format":"d"}}},
{"data":{"name":"ticks"},"transform":[{"filter":"datum.axis=='l'"},{"calculate":"datum.v/1500","as":"u"},{"calculate":"400-340*datum.u","as":"sx"},{"calculate":"346-86*datum.u","as":"sy"}],
"mark":{"type":"text","align":"right","baseline":"middle","dx":-17,"dy":10,"font":"Liberation Sans","fontSize":13.5,"color":"#1a1a1a"},
"encoding":{"x":{"field":"sx","type":"quantitative","scale":{"domain":[0,892],"nice":false,"zero":false},"axis":null},"y":{"field":"sy","type":"quantitative","scale":{"domain":[485,0],"nice":false,"zero":false},"axis":null},"text":{"field":"v","type":"quantitative","format":"d"}}},
{"data":{"name":"ticks"},"transform":[{"filter":"datum.axis=='r'"},{"calculate":"datum.v/1500","as":"u"},{"calculate":"400+442*datum.u","as":"sx"},{"calculate":"346-66*datum.u","as":"sy"}],
"mark":{"type":"text","align":"left","baseline":"middle","dx":13,"dy":10,"font":"Liberation Sans","fontSize":13.5,"color":"#1a1a1a"},
"encoding":{"x":{"field":"sx","type":"quantitative","scale":{"domain":[0,892],"nice":false,"zero":false},"axis":null},"y":{"field":"sy","type":"quantitative","scale":{"domain":[485,0],"nice":false,"zero":false},"axis":null},"text":{"field":"v","type":"quantitative","format":"d"}}}
]},
{"data":{"name":"bands"},"mark":{"type":"rect","strokeWidth":0.5},
"encoding":{"x":{"field":"lo","type":"quantitative","scale":{"domain":[2007.1,2510.3],"nice":false,"zero":false},
"axis":{"values":[2050,2100,2150,2200,2250,2300,2350,2400,2450],"format":"d","orient":"bottom","offset":-68,"domain":false,"grid":false,"zindex":1,"tickSize":-30,"tickColor":"#111111","tickWidth":1,"tickDash":[5,2],"labelPadding":32,"labelFont":"Liberation Sans","labelFontSize":12,"labelColor":"#333333","title":"PSI","titleFont":"Liberation Sans","titleFontSize":27,"titleFontWeight":"bold","titleColor":"#000000","titlePadding":25}},
"x2":{"field":"hi"},"y":{"datum":387,"type":"quantitative","scale":{"domain":[485,0],"nice":false,"zero":false},"axis":null},"y2":{"datum":417},
"fill":{"field":"lo","type":"quantitative","legend":null,"scale":{"interpolate":"rgb","domain":[2040.4,2095.7,2206.2,2316.8,2427.4,2482.7],"range":["#00008f","#0000ff","#00ffff","#ffff00","#ff0000","#800000"]}},
"stroke":{"field":"lo","type":"quantitative","legend":null,"scale":{"interpolate":"rgb","domain":[2040.4,2095.7,2206.2,2316.8,2427.4,2482.7],"range":["#00008f","#0000ff","#00ffff","#ffff00","#ff0000","#800000"]}}}}
]}
